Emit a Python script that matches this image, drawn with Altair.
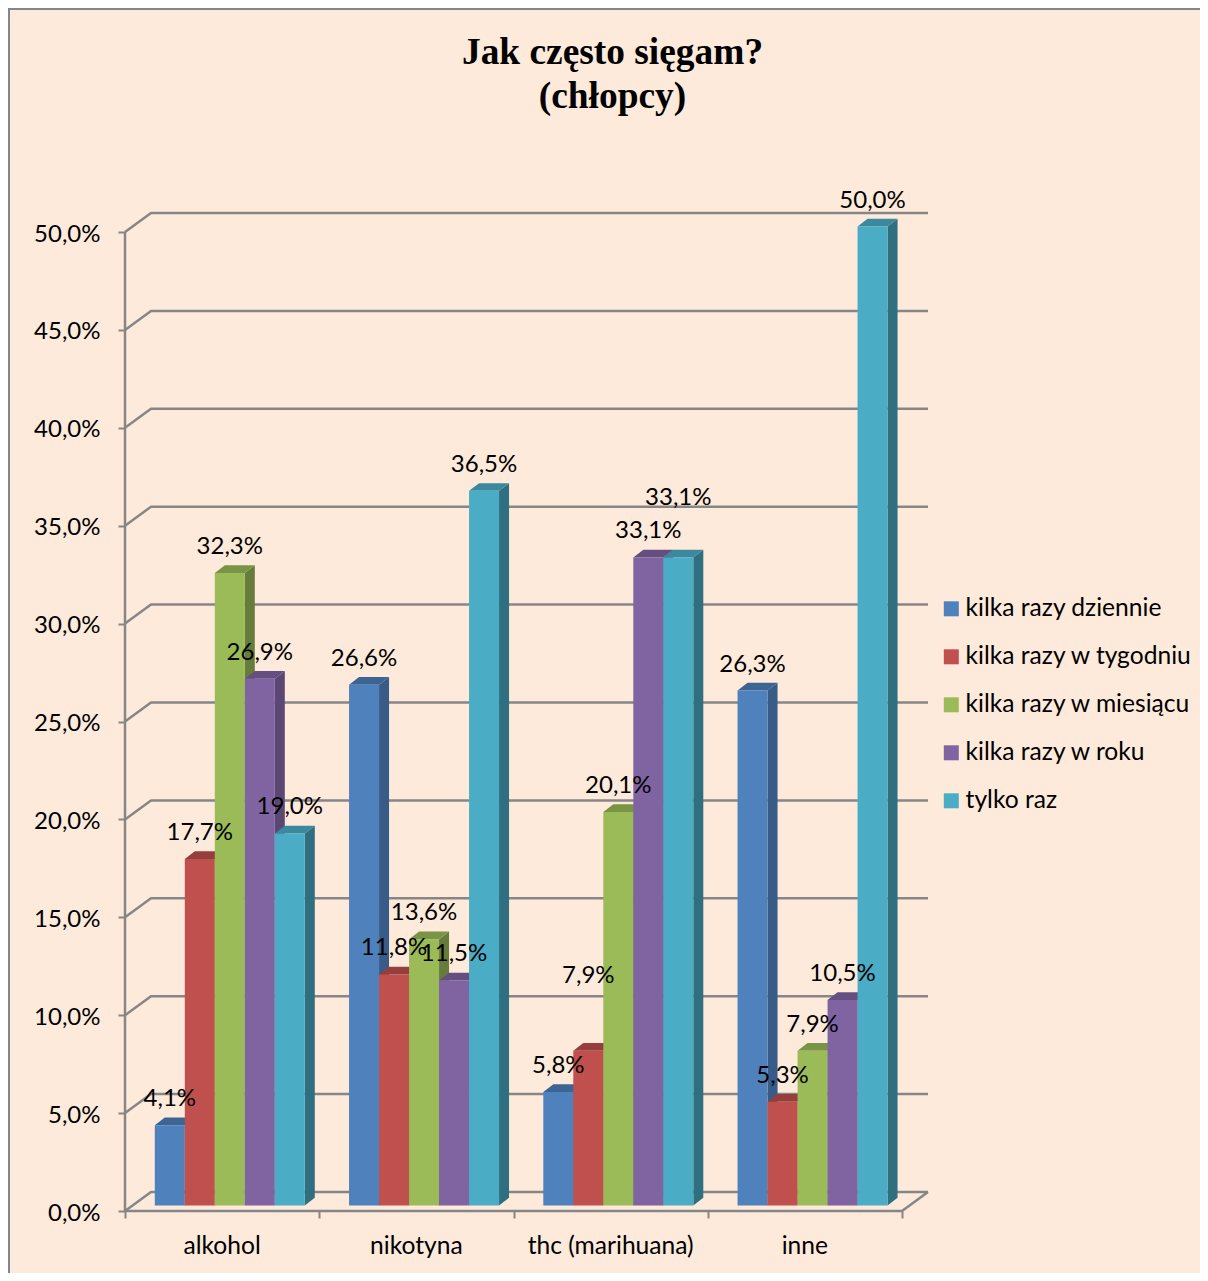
import altair as alt
import pandas as pd

categories = ["alkohol", "nikotyna", "thc (marihuana)", "inne"]
series = ["kilka razy dziennie", "kilka razy w tygodniu", "kilka razy w miesiącu", "kilka razy w roku", "tylko raz"]
dziennie = [4.1, 26.6, 5.8, 26.3]
tygodniu = [17.7, 11.8, 7.9, 5.3]
miesiacu = [32.3, 13.6, 20.1, 7.9]
roku = [26.9, 11.5, 33.1, 10.5]
raz = [19.0, 36.5, 33.1, 50.0]
values = [dziennie, tygodniu, miesiacu, roku, raz]
front_colors = ["#4F81BD", "#C0504D", "#9BBB59", "#8064A2", "#4BACC6"]
top_colors = ["#3C6594", "#963E3B", "#7A9446", "#654F80", "#3A899E"]
side_colors = ["#385C87", "#8A3937", "#667C3A", "#5A4773", "#2F6F80"]
y_ticks = [0, 5, 10, 15, 20, 25, 30, 35, 40, 45, 50]
x_ticks = [0, 1, 2, 3, 4]

PX_X = 194.25          # pixels per category
PX_Y = 19.58           # pixels per percentage point
W, H = 805, 1008
GRAY = "#868686"
FONT = "Lato"
FS = 24
FS_NAMES = 24.6

WALL_X, WALL_Y = 26 / PX_X, 19 / PX_Y       # depth of the chart box
BAR_LEFT = 29.8 / PX_X                      # first bar's start inside a category
BAR_W = 30 / PX_X
BASE = 5.5 / PX_Y                           # bars stand a little into the floor
DEP_X, DEP_Y = 10 / PX_X, 7.7 / PX_Y        # depth of a bar
LABEL_GAP = 26 / PX_Y
EXTRA_LIFT = {("thc (marihuana)", 1): 49 / PX_Y, ("thc (marihuana)", 4): 33 / PX_Y}

front, labels = [], []
sides = [[] for _ in series]
tops = [[] for _ in series]
for s, name in enumerate(series):
    for c, cat in enumerate(categories):
        v = values[s][c]
        x0 = c + BAR_LEFT + s * BAR_W
        x1 = x0 + BAR_W
        top = v + BASE
        key = f"{s}-{c}"
        front.append(dict(series=name, x=x0, x1=x1, y=BASE, y1=top))
        sides[s].append(dict(k=key, x=x1, y=top, y2=BASE))
        sides[s].append(dict(k=key, x=x1 + DEP_X, y=top + DEP_Y, y2=BASE + DEP_Y))
        for px, low, up in [
            (x0, top, top),
            (x0 + DEP_X, top, top + DEP_Y),
            (x1, top, top + DEP_Y),
            (x1 + DEP_X, top + DEP_Y, top + DEP_Y),
        ]:
            tops[s].append(dict(k=key, x=px, y=up, y2=low))
        labels.append(dict(
            x=(x0 + x1) / 2,
            y=top + LABEL_GAP + EXTRA_LIFT.get((cat, s), 0),
            t=f"{v:.1f}%".replace(".", ","),
        ))

grid = []
for v in y_ticks:
    grid += [
        dict(v=v, o=0, x=0, y=v),
        dict(v=v, o=1, x=WALL_X, y=v + WALL_Y),
        dict(v=v, o=2, x=x_ticks[-1] + WALL_X, y=v + WALL_Y),
    ]
frame = [
    dict(v="left", o=0, x=0, y=y_ticks[0]),
    dict(v="left", o=1, x=0, y=y_ticks[-1]),
    dict(v="floor", o=0, x=0, y=0),
    dict(v="floor", o=1, x=x_ticks[-1], y=0),
    dict(v="floor", o=2, x=x_ticks[-1] + WALL_X, y=WALL_Y),
]
cats = [dict(x=i + 0.5, t=t) for i, t in enumerate(categories)]

xs = alt.Scale(domain=[0, W / PX_X], nice=False, zero=False)
ys = alt.Scale(domain=[0, H / PX_Y], nice=False, zero=False)
x_axis = alt.Axis(values=x_ticks, labels=False, grid=False, domain=False,
                  tickColor=GRAY, tickWidth=2, tickSize=7, title=None)
y_axis = alt.Axis(values=y_ticks, grid=False, domain=False, tickColor=GRAY, tickWidth=2, tickSize=7,
                  labelFont=FONT, labelFontSize=FS, labelColor="black", labelPadding=18, labelOffset=2, title=None,
                  labelExpr="replace(format(datum.value, '.1f'), '.', ',') + '%'")
X = alt.X("x:Q", scale=xs, axis=x_axis)
Y = alt.Y("y:Q", scale=ys, axis=y_axis)

grid_layer = alt.Chart(pd.DataFrame(grid)).mark_line(color=GRAY, strokeWidth=2.5, strokeJoin="round").encode(
    x=X, y=Y, detail="v:N", order="o:Q")
frame_layer = alt.Chart(pd.DataFrame(frame)).mark_line(color=GRAY, strokeWidth=2.5).encode(
    x=X, y=Y, detail="v:N", order="o:Q")


def faces(rows, color):
    return alt.Chart(pd.DataFrame(rows)).mark_area(color=color, interpolate="linear").encode(
        x=X, y=Y, y2="y2:Q", detail="k:N")


side_layers = [faces(r, c) for r, c in zip(sides, side_colors)]
top_layers = [faces(r, c) for r, c in zip(tops, top_colors)]

front_layer = alt.Chart(pd.DataFrame(front)).mark_rect().encode(
    x=X, x2="x1:Q", y=Y, y2="y1:Q",
    color=alt.Color("series:N", title=None,
                    scale=alt.Scale(domain=series, range=front_colors),
                    sort=series,
                    legend=alt.Legend(orient="none", legendX=814, legendY=393.5, symbolType="square",
                                      symbolSize=225, symbolStrokeWidth=0, symbolOpacity=1,
                                      labelFont=FONT, labelFontSize=FS_NAMES, labelColor="black",
                                      labelOffset=2, rowPadding=23, labelLimit=300)),
)
label_layer = alt.Chart(pd.DataFrame(labels)).mark_text(
    font=FONT, fontSize=FS, color="black", align="center", baseline="middle"
).encode(x=X, y=Y, text="t:N")
cat_layer = alt.Chart(pd.DataFrame(cats)).mark_text(
    font=FONT, fontSize=FS_NAMES, color="black", align="center", baseline="middle"
).encode(x=X, y=alt.value(H + 36), text="t:N")

border_top = alt.Chart(pd.DataFrame([{"a": 0}])).mark_rule(color=GRAY, strokeWidth=2).encode(
    x=alt.value(-117), x2=alt.value(W + 300), y=alt.value(-194))
border_left = alt.Chart(pd.DataFrame([{"a": 0}])).mark_rule(color=GRAY, strokeWidth=2).encode(
    x=alt.value(-116), y=alt.value(-195), y2=alt.value(H + 70))

chart = alt.layer(
    border_top, border_left, grid_layer, frame_layer,
    *side_layers, *top_layers, front_layer, label_layer, cat_layer,
).properties(
    width=W, height=H,
    background="#FDEADA",
    autosize=alt.AutoSizeParams(type="none"),
    padding={"left": 117, "top": 195, "right": 1192 - 117 - W, "bottom": 1265 - 195 - H},
    title=alt.TitleParams(
        text=["Jak często sięgam?", "(chłopcy)"],
        font="Liberation Serif", fontSize=37.4, fontWeight="bold", color="black",
        lineHeight=43.5, anchor="middle", frame="group", dx=85, offset=-108,
    ),
).configure_view(stroke=None)

chart.save("out.html", embed_options={"renderer": "svg", "actions": False})
